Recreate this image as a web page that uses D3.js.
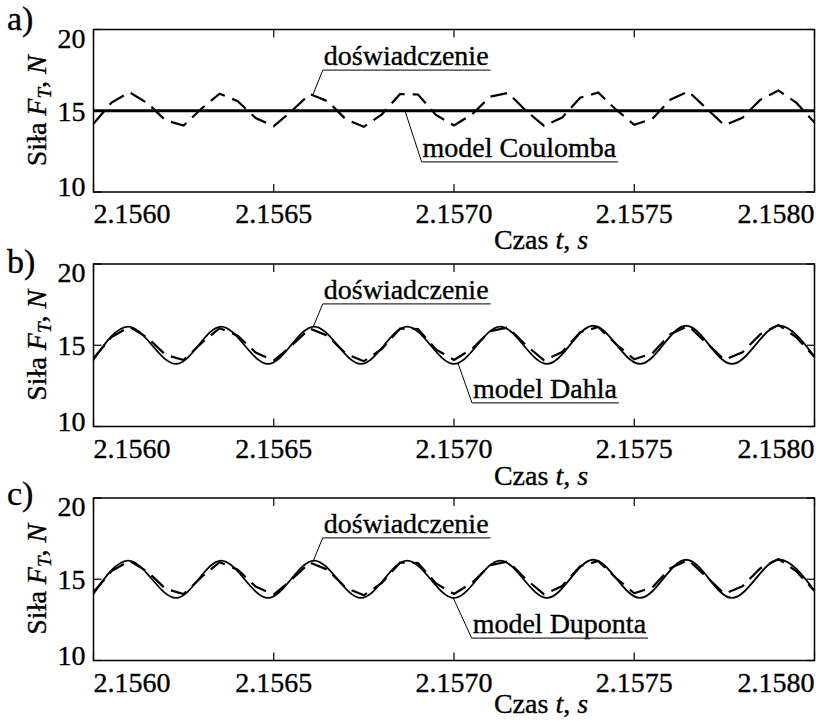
<!doctype html>
<html lang="pl">
  <head>
    <meta charset="utf-8">
    <title>sila tarcia</title>
    <style>
        body {
            margin: 0;
            background-color: white;
        }
        text {
            font-family: "Liberation Serif", "Times New Roman", serif;
            fill: black;
            stroke: black;
            stroke-width: 0.35;
        }
        .frame {
            fill: none;
            stroke: black;
            stroke-width: 1.5;
        }
        .tick {
            stroke: black;
            stroke-width: 1.2;
        }
        .expLine {
            fill: none;
            stroke: black;
            stroke-width: 2.2;
            stroke-dasharray: 17, 8;
        }
        .modelLine {
            fill: none;
            stroke: black;
            stroke-width: 1.8;
        }
        .coulombLine {
            fill: none;
            stroke: black;
            stroke-width: 3;
        }
        .leader {
            stroke: black;
            stroke-width: 1;
        }
        .underline {
            stroke: #333;
            stroke-width: 1.2;
        }
    </style>
    <script src="https://d3js.org/d3.v7.min.js"></script>
  </head>
  <body>
    <div id="graph"></div>

<script>
// czas, s (probki pomiaru)
var expTime = [2.15600, 2.15605, 2.15610, 2.15615, 2.15620, 2.15625, 2.15630, 2.15635, 2.15640, 2.15645,
               2.15650, 2.15655, 2.15660, 2.15665, 2.15670, 2.15675, 2.15680, 2.15685, 2.15690, 2.15695,
               2.15700, 2.15705, 2.15710, 2.15715, 2.15720, 2.15725, 2.15730, 2.15735, 2.15740, 2.15745,
               2.15750, 2.15755, 2.15760, 2.15765, 2.15770, 2.15775, 2.15780, 2.15785, 2.15790, 2.15795,
               2.15800];
// sila F_T, N - doswiadczenie
var expForce = [14.20, 15.50, 16.14, 15.46, 14.41, 14.09, 15.14, 16.05, 15.59, 14.55,
                14.05, 14.99, 16.03, 15.58, 14.47, 14.01, 14.78, 16.02, 16.00, 14.74,
                14.10, 14.78, 15.86, 16.10, 14.99, 14.07, 14.58, 15.80, 16.12, 15.06,
                14.14, 14.50, 15.68, 16.19, 15.15, 14.11, 14.57, 15.68, 16.25, 15.48,
                14.27];

// modele - punkty ekstremow
var modelTime = [2.156000, 2.156096, 2.156229, 2.156354, 2.156484, 2.156612, 2.156742, 2.156870, 2.157000,
                 2.157128, 2.157258, 2.157386, 2.157516, 2.157644, 2.157771, 2.157902, 2.158000];
var dahlForce = [14.10, 16.15, 13.85, 16.15, 13.85, 16.15, 13.85, 16.15, 13.85,
                 16.15, 13.85, 16.20, 13.85, 16.20, 13.85, 16.20, 14.30];
var dupontForce = [14.10, 16.15, 13.85, 16.15, 13.85, 16.15, 13.85, 16.15, 13.85,
                   16.15, 13.85, 16.20, 13.85, 16.20, 13.85, 16.20, 14.30];
var coulombTime = [2.1560, 2.1580];
var coulombForce = [15, 15];

var xTicks = [2.1560, 2.1565, 2.1570, 2.1575, 2.1580];
var yTicks = [10, 15, 20];
var panelLabels = ["a)", "b)", "c)"];
var modelLabels = ["model Coulomba", "model Dahla", "model Duponta"];

var svgWidth = 816, svgHeight = 722;
var svg = d3.select("#graph").append("svg")
            .attr("width", svgWidth)
            .attr("height", svgHeight);

var lMargin = 93.5, rEdge = 814.5;
var panelTops = [29.5, 264, 498];
var panelHeight = 162.5;
var xLabelOffset = [57, 58, 52];
var panelLabelY = [30, 273, 505];

var x = d3.scaleLinear().domain([2.1560, 2.1580]).range([lMargin, rEdge]);

function zip(t, v) {
    return t.map(function(d, i) { return [d, v[i]]; });
}

// pozycje opisow w jednostkach danych: [t, F]
var annotations = [
    { exp: { anchor: [2.156609, 16.0], start: [2.156636, 17.5] },
      mod: { anchor: [2.156864, 15.0], start: [2.156910, 11.86] } },
    { exp: { anchor: [2.156609, 16.1], start: [2.156636, 17.55] },
      mod: { anchor: [2.157011, 13.9], start: [2.157050, 11.45] } },
    { exp: { anchor: [2.156609, 16.1], start: [2.156636, 17.55] },
      mod: { anchor: [2.156997, 13.9], start: [2.157049, 11.38] } }
];

function drawPanel(i, modelT, modelF, modelClass) {
    var top = panelTops[i];
    var y = d3.scaleLinear().domain([10, 20]).range([top + panelHeight, top]);
    var g = svg.append("g");

    var line = d3.line()
        .x(function(d) { return x(d[0]); })
        .y(function(d) { return y(d[1]); });

    var smooth = d3.line()
        .x(function(d) { return x(d[0]); })
        .y(function(d) { return y(d[1]); })
        .curve(modelClass == "coulombLine" ? d3.curveLinear : d3.curveMonotoneX);

    // ticks, inward on all sides
    var tl = 8;
    xTicks.forEach(function(t) {
        g.append("line").attr("class", "tick")
            .attr("x1", x(t)).attr("x2", x(t))
            .attr("y1", y(20)).attr("y2", y(20) + tl);
        g.append("line").attr("class", "tick")
            .attr("x1", x(t)).attr("x2", x(t))
            .attr("y1", y(10)).attr("y2", y(10) - tl);
    });
    yTicks.forEach(function(v) {
        g.append("line").attr("class", "tick")
            .attr("x1", lMargin).attr("x2", lMargin + tl)
            .attr("y1", y(v)).attr("y2", y(v));
        g.append("line").attr("class", "tick")
            .attr("x1", rEdge).attr("x2", rEdge - tl)
            .attr("y1", y(v)).attr("y2", y(v));
    });

    // model
    g.append("path")
        .datum(zip(modelT, modelF))
        .attr("class", modelClass)
        .attr("d", smooth);

    // doswiadczenie
    g.append("path")
        .datum(zip(expTime, expForce))
        .attr("class", "expLine")
        .attr("d", line);

    g.append("rect").attr("class", "frame")
        .attr("x", lMargin).attr("y", top)
        .attr("width", rEdge - lMargin).attr("height", panelHeight);

    // tick labels
    xTicks.forEach(function(t, k) {
        var anchor = "middle";
        if (k == 0) anchor = "start";
        if (k == xTicks.length - 1) anchor = "end";
        g.append("text")
            .attr("x", x(t)).attr("y", y(10) + 31)
            .attr("text-anchor", anchor)
            .attr("font-size", 28)
            .text(t.toFixed(4));
    });
    yTicks.forEach(function(v) {
        var off = 10;
        if (v == 20) off = 18;
        if (v == 10) off = 4;
        g.append("text")
            .attr("x", lMargin - 8).attr("y", y(v) + off)
            .attr("text-anchor", "end")
            .attr("font-size", 28)
            .text(v);
    });

    // osie
    var xl = g.append("text")
        .attr("x", 541).attr("y", y(10) + xLabelOffset[i])
        .attr("text-anchor", "middle")
        .attr("font-size", 28);
    xl.append("tspan").text("Czas ");
    xl.append("tspan").attr("font-style", "italic").text("t");
    xl.append("tspan").text(", ");
    xl.append("tspan").attr("font-style", "italic").text("s");

    var yl = g.append("text")
        .attr("transform", "translate(46," + (top + panelHeight / 2) + ") rotate(-90)")
        .attr("text-anchor", "middle")
        .attr("font-size", 28);
    yl.append("tspan").text("Siła ");
    yl.append("tspan").attr("font-style", "italic").text("F");
    yl.append("tspan").attr("font-style", "italic").attr("font-size", 19).attr("dy", 5).text("T");
    yl.append("tspan").attr("dy", -5).text(", ");
    yl.append("tspan").attr("font-style", "italic").text("N");

    g.append("text")
        .attr("x", 7).attr("y", panelLabelY[i])
        .attr("font-size", 34)
        .text(panelLabels[i]);

    // opisy
    var ann = annotations[i];
    label(g, y, ann.exp, "doświadczenie");
    label(g, y, ann.mod, modelLabels[i]);
}

function label(g, y, a, txt) {
    var sx = x(a.start[0]), sy = y(a.start[1]);
    g.append("line").attr("class", "leader")
        .attr("x1", x(a.anchor[0])).attr("y1", y(a.anchor[1]))
        .attr("x2", sx).attr("y2", sy);
    var t = g.append("text")
        .attr("x", sx + 1).attr("y", sy - 5)
        .attr("font-size", 28)
        .text(txt);
    var w = t.node().getComputedTextLength();
    g.append("line").attr("class", "underline")
        .attr("x1", sx).attr("x2", sx + w + 3)
        .attr("y1", sy).attr("y2", sy);
}

drawPanel(0, coulombTime, coulombForce, "coulombLine");
drawPanel(1, modelTime, dahlForce, "modelLine");
drawPanel(2, modelTime, dupontForce, "modelLine");
</script>
  </body>
</html>
